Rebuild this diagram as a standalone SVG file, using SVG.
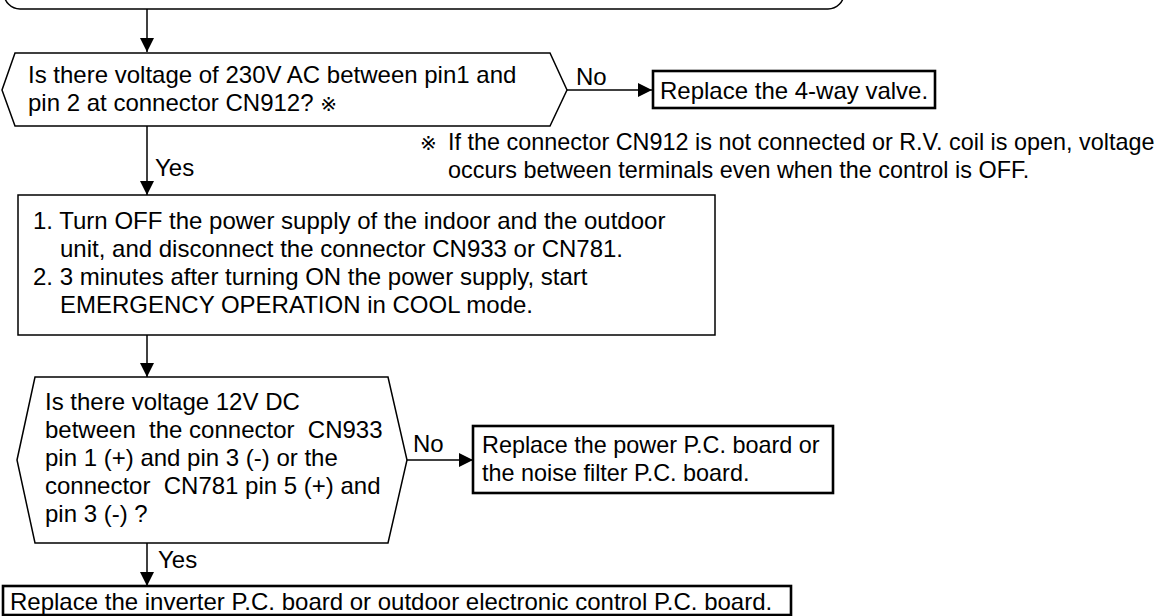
<svg xmlns="http://www.w3.org/2000/svg" width="1169" height="616" viewBox="0 0 1169 616">
<style>
  text { font-family: "Liberation Sans", Arial, "Noto Sans CJK JP", sans-serif; font-size: 24px; fill: #000; }
  .sm { font-size: 23.4px; }
  .thin { fill: #fff; stroke: #000; stroke-width: 1.5; }
  .thick { fill: #fff; stroke: #000; stroke-width: 2.6; }
  .conn { stroke: #000; stroke-width: 1.5; fill: none; }
  .ref { font-family: "DejaVu Sans", "Noto Sans CJK JP", sans-serif; font-size: 20px; }
</style>
<defs>
  <marker id="ah" markerWidth="14" markerHeight="14" refX="14" refY="7" orient="auto" markerUnits="userSpaceOnUse">
    <path d="M0,0 L14,7 L0,14 Z" fill="#000"/>
  </marker>
</defs>
<rect width="1169" height="616" fill="#fff"/>

<g id="top-terminal">
  <rect class="thin" x="4" y="-40" width="840" height="49" rx="16" ry="16"/>
</g>

<g id="connectors">
  <line class="conn" x1="147" y1="9" x2="147" y2="52" marker-end="url(#ah)"/>
  <line class="conn" x1="567" y1="90" x2="652" y2="90" marker-end="url(#ah)"/>
  <line class="conn" x1="147" y1="126" x2="147" y2="195" marker-end="url(#ah)"/>
  <line class="conn" x1="147" y1="335" x2="147" y2="377" marker-end="url(#ah)"/>
  <line class="conn" x1="407" y1="460" x2="473" y2="460" marker-end="url(#ah)"/>
  <line class="conn" x1="147" y1="543" x2="147" y2="586" marker-end="url(#ah)"/>
  <text x="576" y="85">No</text>
  <text x="155" y="176">Yes</text>
  <text x="413" y="452">No</text>
  <text x="158" y="568">Yes</text>
</g>

<g id="decision-230v">
  <polygon class="thin" points="2,90 15,53 550,53 567,90 550,126 15,126"/>
  <text x="28" y="83">Is there voltage of 230V AC between pin1 and</text>
  <text x="28" y="111">pin 2 at connector CN912? <tspan class="ref">※</tspan></text>
</g>

<g id="replace-valve">
  <rect class="thick" x="653" y="71" width="282" height="37"/>
  <text x="660" y="99">Replace the 4-way valve.</text>
</g>

<g id="footnote">
  <text class="ref" x="420" y="150">※</text>
  <text class="sm" x="448" y="150">If the connector CN912 is not connected or R.V. coil is open, voltage</text>
  <text class="sm" x="448" y="178">occurs between terminals even when the control is OFF.</text>
</g>

<g id="steps">
  <rect class="thin" x="18" y="195" width="697" height="140"/>
  <text x="33" y="229">1. Turn OFF the power supply of the indoor and the outdoor</text>
  <text x="60" y="257">unit, and disconnect the connector CN933 or CN781.</text>
  <text x="33" y="285">2. 3 minutes after turning ON the power supply, start</text>
  <text x="60" y="313">EMERGENCY OPERATION in COOL mode.</text>
</g>

<g id="decision-12v">
  <polygon class="thin" points="17,460 35,377 388,377 407,460 388,543 35,543"/>
  <text x="45" y="410">Is there voltage 12V DC</text>
  <text x="45" y="438" xml:space="preserve">between  the connector  CN933</text>
  <text x="45" y="466">pin 1 (+) and pin 3 (-) or the</text>
  <text x="45" y="494" xml:space="preserve">connector  CN781 pin 5 (+) and</text>
  <text x="45" y="522">pin 3 (-) ?</text>
</g>

<g id="replace-power-board">
  <rect class="thick" x="473" y="426" width="360" height="67"/>
  <text class="sm" x="482" y="453">Replace the power P.C. board or</text>
  <text class="sm" x="482" y="481">the noise filter P.C. board.</text>
</g>

<g id="replace-inverter-board">
  <rect class="thick" x="3" y="586" width="788" height="29"/>
  <text x="10" y="610">Replace the inverter P.C. board or outdoor electronic control P.C. board.</text>
</g>
</svg>
